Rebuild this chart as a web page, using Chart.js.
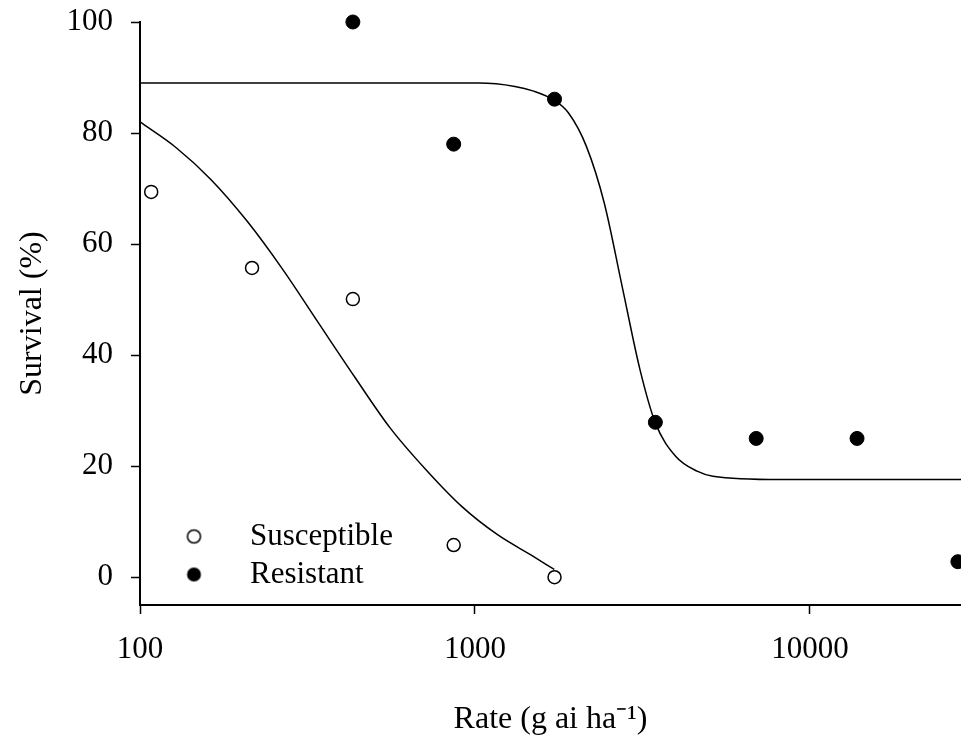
<!DOCTYPE html>
<html><head><meta charset="utf-8">
<script src="https://cdn.jsdelivr.net/npm/chart.js@4.4.1/dist/chart.umd.min.js"></script>
<style>html,body{margin:0;padding:0;background:#fff;} #wrap{width:961px;height:741px;}</style>
</head><body><div id="wrap"><canvas id="c" width="961" height="741"></canvas></div>
<script>
// ---- data ----
const susRate = [108, 216, 432, 864, 1728];
const susSurv = [69.4, 55.7, 50.1, 5.8, 0];
const resRate = [432, 864, 1728, 3456, 6912, 13824, 27648];
const resSurv = [100, 78, 86.1, 27.9, 25, 25, 2.8];
// fitted curves, points
const susCurveRate = [100, 128, 163, 209, 267, 341, 436, 558, 713, 911, 1165, 1489, 1725];
const susCurveSurv = [82.0, 77.4, 71.6, 64.1, 55.4, 45.8, 36.2, 26.9, 19.4, 12.8, 7.7, 3.8, 1.4];
const resCurveRate = [100, 1028, 1316, 1489, 1725, 1903, 2151, 2432, 2750, 3109, 3456, 3972, 4603, 5130, 8130, 28250];
const resCurveSurv = [89.0, 89.0, 88.4, 87.6, 85.9, 83.6, 77.6, 67.4, 52.4, 37.4, 27.8, 21.8, 19.1, 18.2, 17.6, 17.6];
const xTickVals = [100, 1000, 10000];
const yTickVals = [0, 20, 40, 60, 80, 100];
const seriesNames = ['Susceptible', 'Resistant'];
const xTitle = 'Rate (g ai ha\u207B\u00B9)';
const yTitle = 'Survival (%)';

const pts = (xs, ys) => xs.map((x, i) => ({x: x, y: ys[i]}));
const FAM = '"Liberation Serif", "Times New Roman", serif';
const tickFont = {family: FAM, size: 31};
const titleFont = {family: FAM, size: 32};

function markerCanvas(filled) {
  const c = document.createElement('canvas');
  c.width = 80; c.height = 20;
  const g = c.getContext('2d');
  g.beginPath();
  g.arc(23.5, 10, filled ? 7 : 6.5, 0, Math.PI * 2);
  if (filled) { g.fillStyle = '#000'; g.fill(); }
  else { g.fillStyle = '#fff'; g.fill(); g.lineWidth = 1.5; g.strokeStyle = '#000'; g.stroke(); }
  return c;
}
const markers = [markerCanvas(false), markerCanvas(true)];

const legendPos = {
  id: 'legendPos',
  afterLayout(chart) {
    const lg = chart.legend;
    if (!lg) return;
    const w = lg.width, h = lg.height;
    lg.left = 179.5; lg.top = 514; lg.right = lg.left + w; lg.bottom = lg.top + h;
  }
};

new Chart(document.getElementById('c'), {
  type: 'scatter',
  data: {
    datasets: [
      {label: seriesNames[0], data: pts(susRate, susSurv), pointStyle: 'circle', pointRadius: 6.5,
       backgroundColor: '#fff', borderColor: '#000', borderWidth: 1.5, clip: false},
      {label: seriesNames[1], data: pts(resRate, resSurv), pointStyle: 'circle', pointRadius: 7,
       backgroundColor: '#000', borderColor: '#000', borderWidth: 1, clip: false},
      {label: 'Susceptible fit', data: pts(susCurveRate, susCurveSurv), showLine: true, pointRadius: 0,
       borderColor: '#000', borderWidth: 1.5, cubicInterpolationMode: 'monotone', fill: false},
      {label: 'Resistant fit', data: pts(resCurveRate, resCurveSurv), showLine: true, pointRadius: 0,
       borderColor: '#000', borderWidth: 1.5, cubicInterpolationMode: 'monotone', fill: false}
    ]
  },
  options: {
    responsive: false, animation: false, devicePixelRatio: 1, events: [],
    layout: {autoPadding: false, padding: {top: 22, left: 0, right: 0, bottom: 0}},
    plugins: {
      tooltip: {enabled: false},
      legend: {
        display: true, position: 'chartArea', align: 'start', fullSize: false,
        labels: {
          usePointStyle: true, pointStyleWidth: 48, boxWidth: 48, boxHeight: 31, padding: 7,
          font: tickFont, color: '#000',
          generateLabels(chart) {
            const items = Chart.defaults.plugins.legend.labels.generateLabels(chart);
            return items.filter(i => i.datasetIndex < 2).map(i => Object.assign({}, i, {
              pointStyle: markers[i.datasetIndex], lineWidth: 0, fontColor: '#000'}));
          }
        }
      }
    },
    scales: {
      x: {
        type: 'logarithmic', position: 'bottom', min: 100, max: 28250,
        afterBuildTicks: s => { s.ticks = xTickVals.map(v => ({value: v})); },
        afterFit: s => { s.height = 136; s.paddingLeft = 0; s.paddingRight = 0; },
        ticks: {callback: v => String(v), font: tickFont, color: '#000', padding: 17, maxRotation: 0, autoSkip: false},
        grid: {display: true, drawOnChartArea: false, drawTicks: true, tickLength: 9, tickWidth: 1.5, tickColor: '#000'},
        border: {display: true, color: '#000', width: 2},
        title: {display: true, text: xTitle, font: titleFont, color: '#000', padding: {top: 0, bottom: 2}}
      },
      y: {
        type: 'linear', position: 'left', min: -5, max: 100,
        afterBuildTicks: s => { s.ticks = yTickVals.map(v => ({value: v})); },
        afterFit: s => { s.width = 140; s.paddingTop = 0; s.paddingBottom = 0; },
        ticks: {font: tickFont, color: '#000', padding: 18},
        grid: {display: true, drawOnChartArea: false, drawTicks: true, tickLength: 9, tickWidth: 1.5, tickColor: '#000'},
        border: {display: true, color: '#000', width: 2},
        title: {display: true, text: yTitle, font: titleFont, color: '#000', padding: {top: 13, bottom: 0}}
      }
    }
  },
  plugins: [legendPos]
});
</script>
</body></html>
